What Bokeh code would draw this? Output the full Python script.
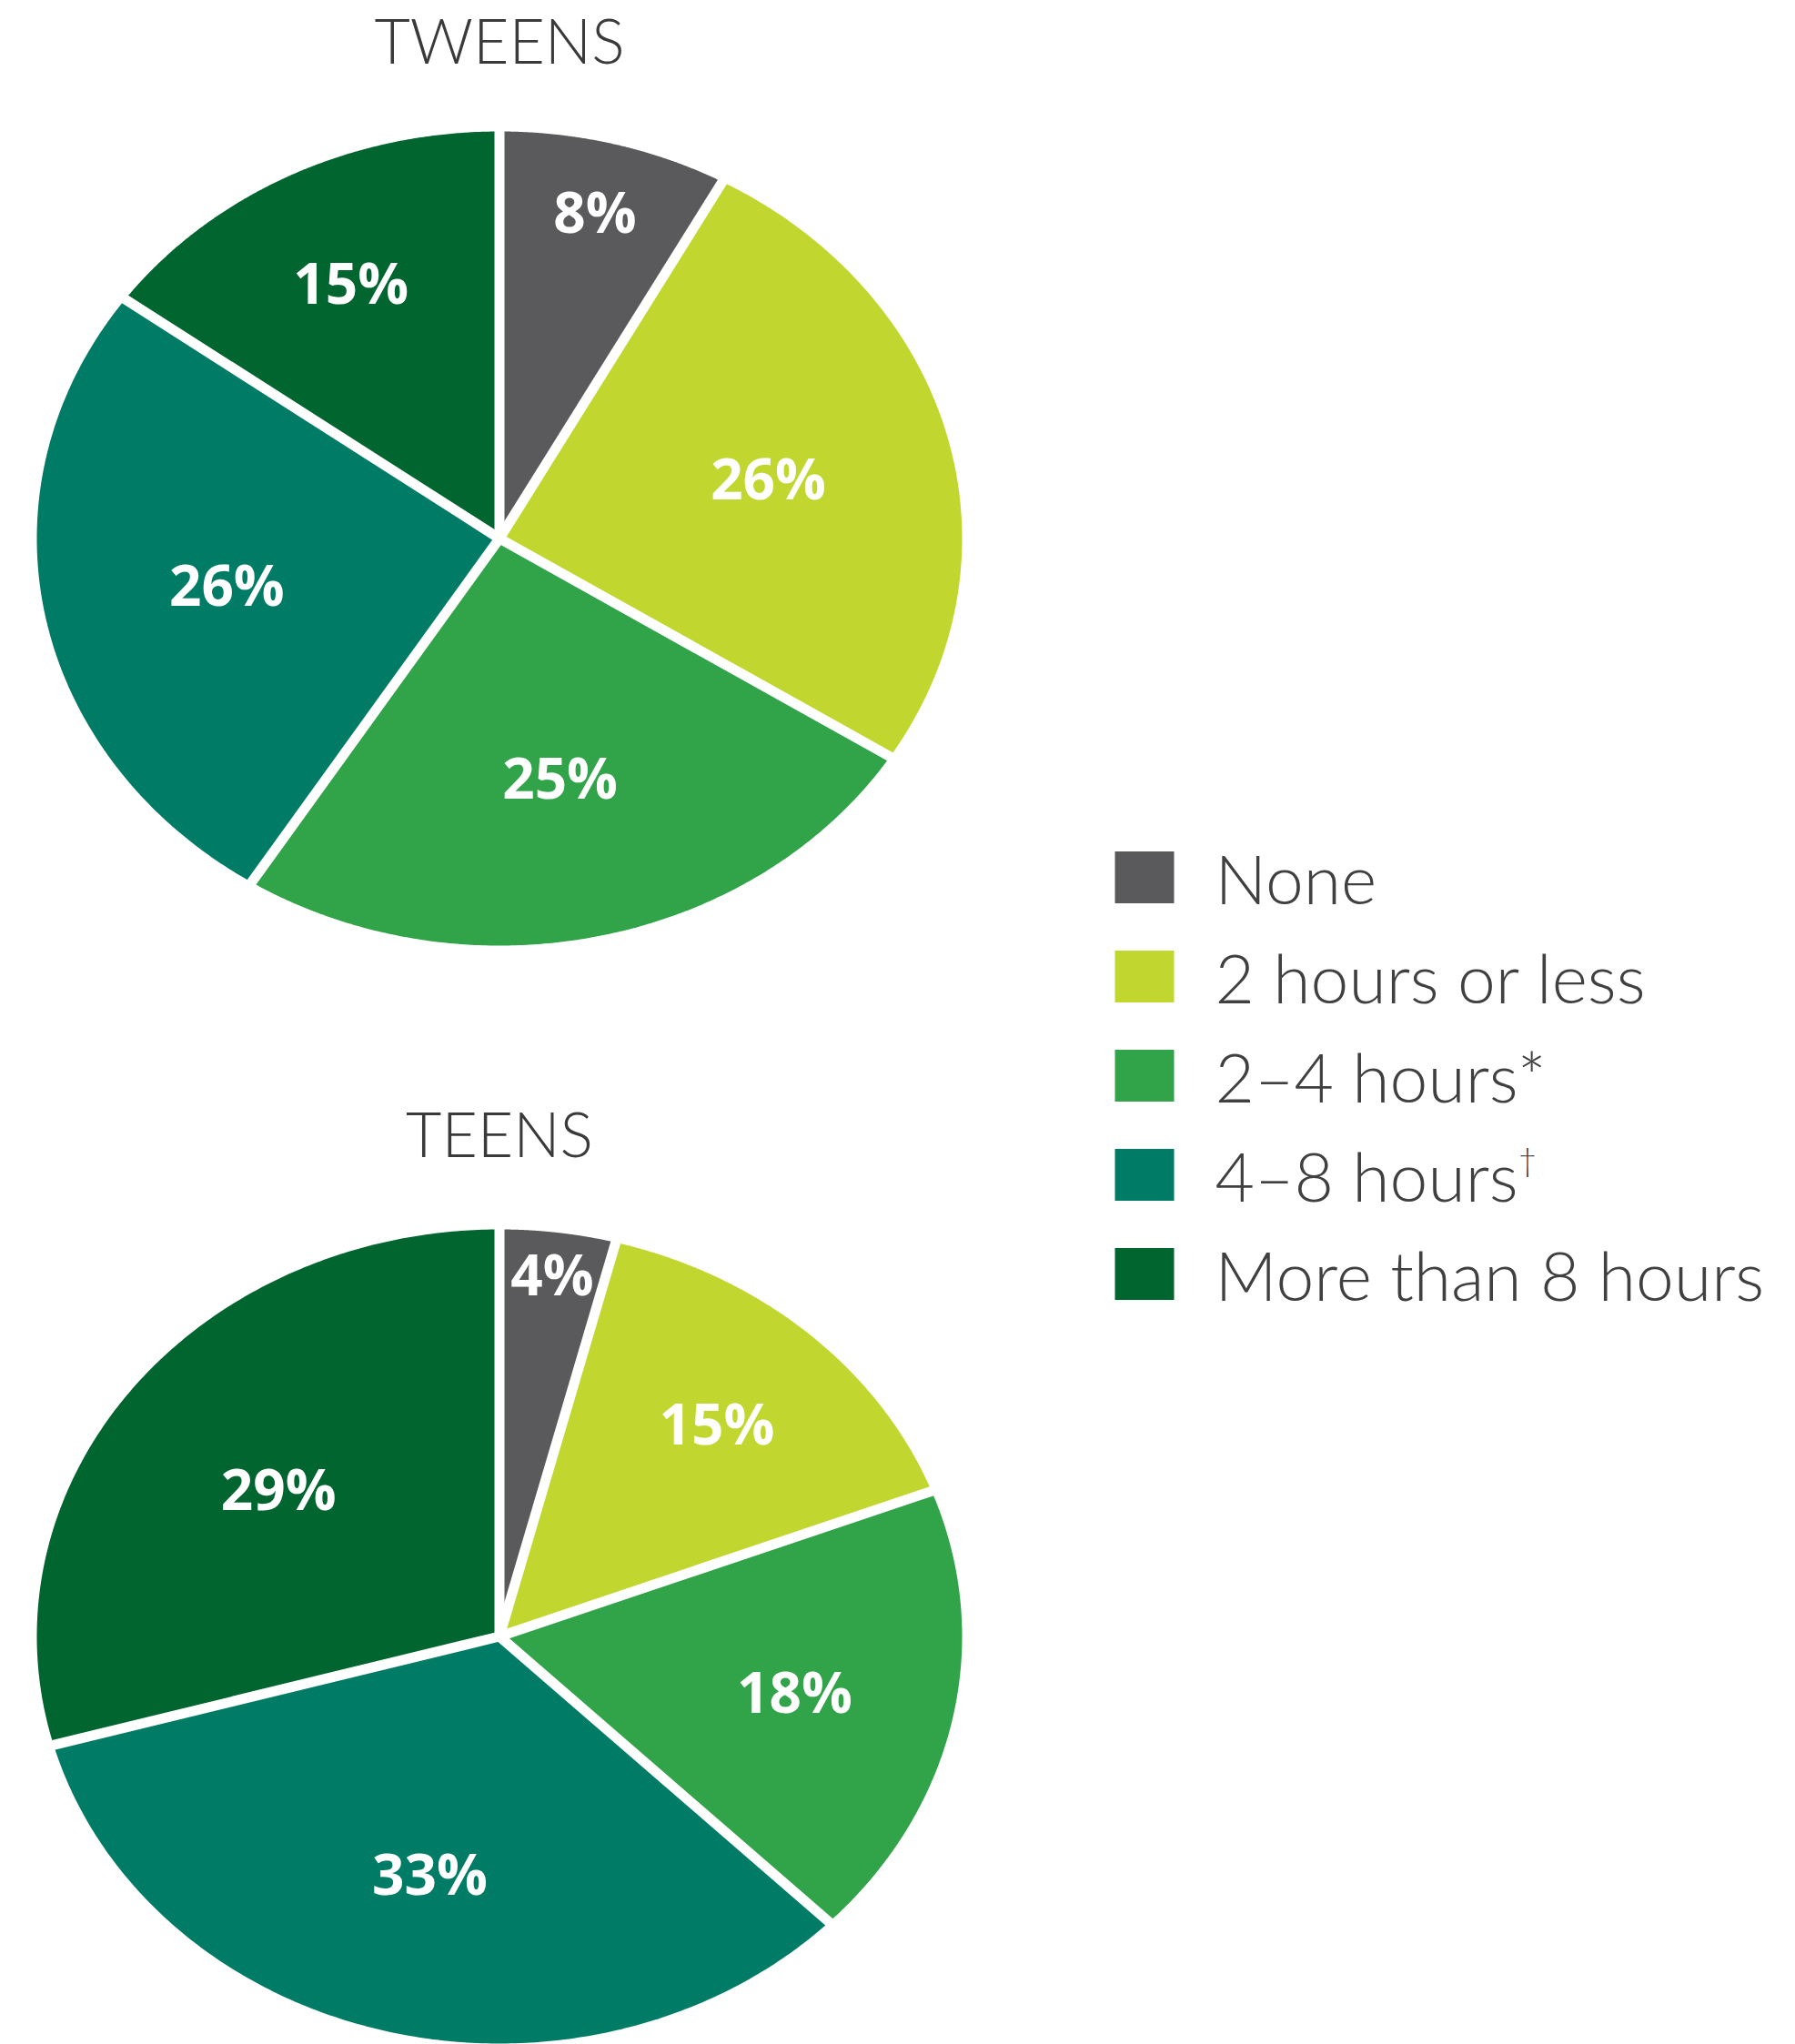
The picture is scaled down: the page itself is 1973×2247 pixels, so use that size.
import numpy as np
from bokeh.plotting import figure
from bokeh.models import Range1d
from bokeh.core.properties import value
from bokeh.embed import file_html
from bokeh.resources import INLINE

# ---- data ----
categories = ["None", "2 hours or less", "2–4 hours*", "4–8 hours", "More than 8 hours"]
legend_marks = ["", "", "", "†", ""]
tweens = [8, 26, 25, 26, 15]
teens = [4, 15, 18, 33, 29]
colors = ["#5a5a5c", "#c1d72f", "#31a349", "#007c66", "#01652f"]
titles = ["TWEENS", "TEENS"]

W, H = 1973, 2247
p = figure(width=W, height=H, output_backend="svg", toolbar_location=None,
           x_range=Range1d(0, W), y_range=Range1d(H, 0),
           min_border=0, min_border_left=0, min_border_right=0,
           min_border_top=0, min_border_bottom=0)
p.axis.visible = False
p.grid.visible = False
p.outline_line_color = None
p.background_fill_color = "white"
p.border_fill_color = "white"

RX, RY = 508.5, 447.5
centers = [(548.5, 591.5), (548.5, 1798.5)]
title_y = [43, 1245]
LIGHT = value("Lato Light, Lato")

for vals, (cx, cy), title, ty in zip([tweens, teens], centers, titles, title_y):
    v = np.array(vals, dtype=float)
    frac = v / v.sum()
    ends = np.cumsum(frac) * 2 * np.pi
    starts = ends - frac * 2 * np.pi
    xs, ys = [], []
    for a0, a1 in zip(starts, ends):
        t = np.linspace(a0, a1, 200)
        xs.append([cx] + list(cx + RX * np.sin(t)) + [cx])
        ys.append([cy] + list(cy - RY * np.cos(t)) + [cy])
    p.patches(xs=xs, ys=ys, fill_color=colors, line_color=None)
    # white separators
    p.segment(x0=[cx] * len(starts), y0=[cy] * len(starts),
              x1=list(cx + 1.03 * RX * np.sin(starts)),
              y1=list(cy - 1.03 * RY * np.cos(starts)),
              line_color="white", line_width=11, line_cap="butt")
    # value labels: small slices pushed outward
    mids = (starts + ends) / 2
    rr = np.maximum(0.6, 0.97 - 1.75 * frac)
    lx = cx + rr * RX * np.sin(mids)
    ly = cy - rr * RY * np.cos(mids)
    p.text(x=list(lx), y=list(ly), text=[f"{int(x)}%" for x in vals],
           text_color="white", text_font=value("Open Sans"), text_font_style="bold",
           text_font_size="62px", text_align="center", text_baseline="middle")
    p.text(x=[cx], y=[ty], text=[title], text_color="#3a3a3a",
           text_font=LIGHT, text_font_size="68px",
           text_align="center", text_baseline="middle")

# ---- legend ----
lg_x, lg_y0, lg_step = 1257.5, 964, 109
rows = [lg_y0 + i * lg_step for i in range(len(categories))]
p.rect(x=[lg_x] * len(categories), y=rows, width=65, height=57,
       fill_color=colors, line_color=None)
p.text(x=[1335] * len(categories), y=rows, text=categories, text_color="#404040",
       text_font=LIGHT, text_font_size="75px", text_align="left",
       text_baseline="middle")
for i, m in enumerate(legend_marks):
    if m:
        p.text(x=[1668], y=[rows[i] - 18], text=[m], text_color="#404040",
               text_font=LIGHT, text_font_size="36px", text_align="left",
               text_baseline="middle")

open("out.html", "w").write(file_html(p, INLINE))
